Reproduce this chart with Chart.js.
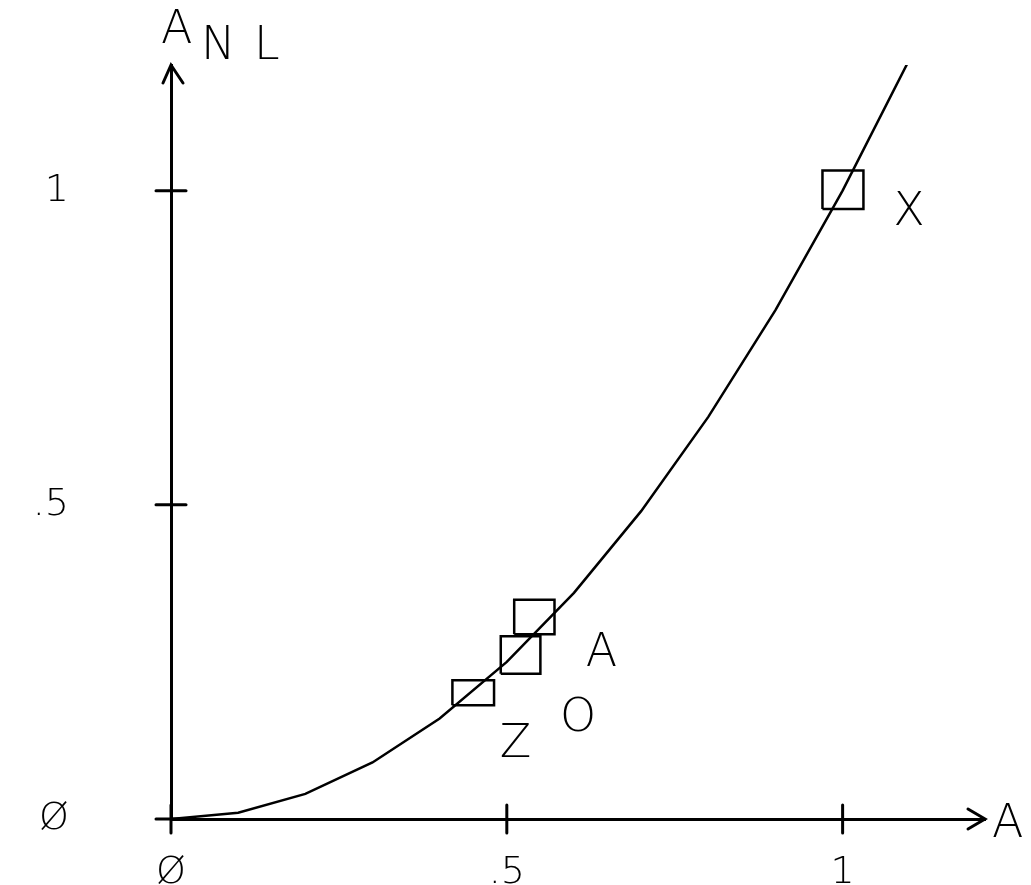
<!DOCTYPE html>
<html>
<head>
<meta charset="utf-8">
<script src="https://cdn.jsdelivr.net/npm/chart.js@4/dist/chart.umd.min.js"></script>
<style>
  html, body { margin: 0; padding: 0; background: #fff; }
  #wrap { width: 1031px; height: 885px; position: relative; }
</style>
</head>
<body>
<div id="wrap"><canvas id="plot"></canvas></div>
<script>
// curve A -> A_NL (polyline)
const curveA   = [0, 0.1, 0.2, 0.3, 0.4, 0.5, 0.6, 0.7, 0.8, 0.9, 1.0, 1.1];
const curveANL = [0, 0.01, 0.04, 0.09, 0.16, 0.25, 0.36, 0.49, 0.64, 0.81, 1.0, 1.21];

// measured boxes (data units)
const boxLeft   = [0.419, 0.491, 0.511, 0.970];
const boxRight  = [0.481, 0.550, 0.571, 1.031];
const boxBottom = [0.181, 0.231, 0.294, 0.971];
const boxTop    = [0.221, 0.291, 0.349, 1.032];

// letters written next to the boxes
const pointLabels = ["Z", "O", "A", "X"];
const labelA      = [0.513, 0.606, 0.641, 1.099];
const labelANL    = [0.126, 0.167, 0.271, 0.973];

// ticks
const xTickValues = [0, 0.5, 1];
const xTickLabels = ["Ø", ".5", "1"];
const yTickValues = [0, 0.5, 1];
const yTickLabels = ["Ø", ".5", "1"];

const INK = "#000";
const FONT = '"DejaVu Sans", sans-serif';

const curvePoints = curveA.map((a, i) => ({ x: a, y: curveANL[i] }));

const boxSets = boxLeft.map((l, i) => ({
    data: [
        { x: l, y: boxBottom[i] },
        { x: boxRight[i], y: boxBottom[i] },
        { x: boxRight[i], y: boxTop[i] },
        { x: l, y: boxTop[i] },
        { x: l, y: boxBottom[i] }
    ],
    showLine: true,
    borderColor: INK,
    borderWidth: 2.5,
    pointRadius: 0,
    tension: 0
}));

// cross ticks, x tick labels, arrows, axis titles, letter labels
const decor = {
    id: "decor",
    afterDraw(chart) {
        const ctx = chart.ctx;
        const xs = chart.scales.x, ys = chart.scales.y;
        const x0 = xs.getPixelForValue(0), y0 = ys.getPixelForValue(0);
        const area = chart.chartArea;
        ctx.save();
        ctx.strokeStyle = INK;
        ctx.fillStyle = INK;
        ctx.lineWidth = 3;
        ctx.lineCap = "round";

        // ticks crossing the axes
        xTickValues.forEach(v => {
            const px = xs.getPixelForValue(v);
            ctx.beginPath();
            ctx.moveTo(px, y0 - 14);
            ctx.lineTo(px, y0 + 14);
            ctx.stroke();
        });
        yTickValues.forEach(v => {
            const py = ys.getPixelForValue(v);
            ctx.beginPath();
            ctx.moveTo(x0 - 15, py);
            ctx.lineTo(x0 + 15, py);
            ctx.stroke();
        });

        // x tick labels under the axis
        ctx.font = "200 38px " + FONT;
        ctx.textAlign = "center";
        ctx.textBaseline = "alphabetic";
        xTickValues.forEach((v, i) => {
            ctx.fillText(xTickLabels[i], xs.getPixelForValue(v), y0 + 64);
        });

        // arrow heads
        ctx.beginPath();
        ctx.moveTo(x0 - 8, area.top + 18);
        ctx.lineTo(x0, area.top);
        ctx.lineTo(x0 + 12, area.top + 18);
        ctx.stroke();
        ctx.beginPath();
        ctx.moveTo(area.right - 17, y0 - 10);
        ctx.lineTo(area.right, y0);
        ctx.lineTo(area.right - 17, y0 + 10);
        ctx.stroke();

        // axis titles
        ctx.font = "200 46px " + FONT;
        ctx.textAlign = "left";
        ctx.fillText("A", x0 - 10, 43);
        ctx.fillText("N", x0 + 30, 59);
        ctx.fillText("L", x0 + 83, 59);
        ctx.fillText("A", area.right + 7, y0 + 18);

        // letters by the boxes
        ctx.textAlign = "center";
        pointLabels.forEach((t, i) => {
            const px = xs.getPixelForValue(labelA[i]);
            const py = ys.getPixelForValue(labelANL[i]);
            ctx.fillText(t, px, py + 17);
        });
        ctx.restore();
    }
};

new Chart(document.getElementById("plot"), {
    type: "scatter",
    data: {
        datasets: [{
            data: curvePoints,
            showLine: true,
            borderColor: INK,
            borderWidth: 2.5,
            pointRadius: 0,
            tension: 0
        }, ...boxSets]
    },
    options: {
        responsive: true,
        maintainAspectRatio: false,
        animation: false,
        layout: { autoPadding: false, padding: { top: 65, right: 46, left: 0, bottom: 0 } },
        plugins: {
            legend: { display: false },
            tooltip: { enabled: false }
        },
        scales: {
            x: {
                type: "linear",
                min: 0,
                max: 1.212,
                grid: { display: false, drawTicks: false },
                border: { display: true, color: INK, width: 3 },
                afterBuildTicks: s => { s.ticks = xTickValues.map(v => ({ value: v })); },
                afterFit: s => { s.height = 66; s.paddingLeft = 0; s.paddingRight = 0; },
                ticks: { display: false }
            },
            y: {
                type: "linear",
                min: 0,
                max: 1.2,
                grid: { display: false, drawTicks: false },
                border: { display: true, color: INK, width: 3 },
                afterBuildTicks: s => { s.ticks = yTickValues.map(v => ({ value: v })); },
                afterFit: s => { s.width = 171; s.paddingTop = 0; s.paddingBottom = 0; },
                ticks: {
                    padding: 102,
                    color: INK,
                    font: { family: FONT, size: 38, weight: "200" },
                    callback: v => yTickLabels[yTickValues.indexOf(v)]
                }
            }
        }
    },
    plugins: [decor]
});
</script>
</body>
</html>
